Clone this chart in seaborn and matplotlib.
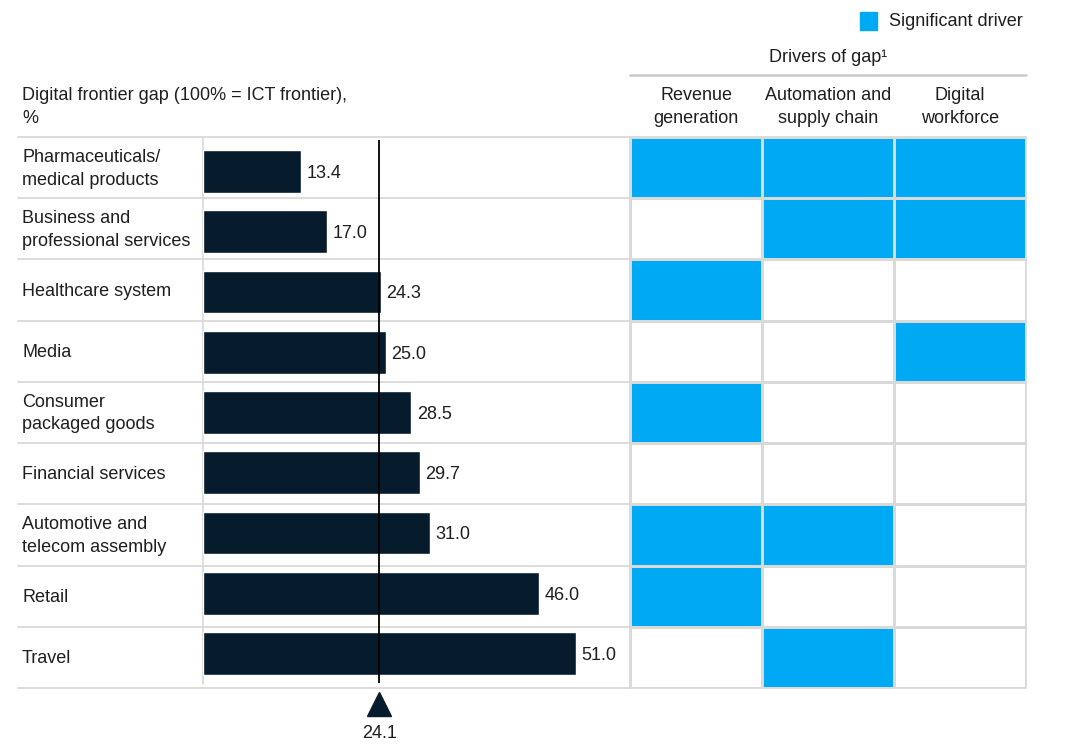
import matplotlib
matplotlib.use("Agg")
import matplotlib.pyplot as plt
import seaborn as sns
import numpy as np
import pandas as pd
from matplotlib.colors import ListedColormap
from matplotlib.lines import Line2D
from matplotlib.patches import Rectangle
from matplotlib.transforms import blended_transform_factory

categories = ["Pharmaceuticals/\nmedical products", "Business and\nprofessional services",
              "Healthcare system", "Media", "Consumer\npackaged goods", "Financial services",
              "Automotive and\ntelecom assembly", "Retail", "Travel"]
gap_values = [13.4, 17.0, 24.3, 25.0, 28.5, 29.7, 31.0, 46.0, 51.0]
reference_value = 24.1
driver_columns = ["Revenue\ngeneration", "Automation and\nsupply chain", "Digital\nworkforce"]
revenue_generation = [1, 0, 1, 0, 1, 0, 1, 1, 0]
automation_supply = [1, 1, 0, 0, 0, 0, 1, 0, 1]
digital_workforce = [1, 1, 0, 1, 0, 0, 0, 0, 0]

W, H = 1080, 749
BAR_C = "#061c2c"
BLUE = "#00a9f4"
GRID = "#d9d9d9"
TXT = "#1e1e1e"

sns.set_theme(style="white")
plt.rcParams["font.family"] = ["Liberation Sans", "DejaVu Sans"]
FS = 13
LS = 1.45

fig = plt.figure(figsize=(W / 100, H / 100), dpi=100)
fig.patch.set_facecolor("white")

def fx(x):
    return x / W

def fy(y):
    return 1 - y / H

top, bot = 137, 688
row_h = (bot - top) / len(categories)

# bar axes (bar pitch slightly tighter than the table rows, as in the original)
pitch, first_c = 60.25, 171.5
axb = fig.add_axes([fx(203), fy(bot), fx(630 - 203), (bot - top) / H])
axb.set_zorder(5)
axb.patch.set_alpha(0)
df = pd.DataFrame({"cat": categories, "val": gap_values})
sns.barplot(data=df, x="val", y="cat", orient="h", color=BAR_C, width=0.71,
            saturation=1, ax=axb, zorder=3)
axb.set_xlim(0, (630 - 203) / 7.31)
axb.set_ylim((bot - first_c) / pitch, (top - first_c) / pitch)
axb.axis("off")
for i, v in enumerate(gap_values):
    axb.text(v + 0.75, i + 0.03, f"{v:.1f}", va="center", ha="left", fontsize=FS, color=TXT)
ylo, yhi = axb.get_ylim()
axb.plot([reference_value, reference_value], [yhi + 3 / pitch, ylo - 5 / pitch], color="black",
         lw=1.3, solid_capstyle="butt", zorder=6)
tr = blended_transform_factory(axb.transData, fig.transFigure)
axb.plot([reference_value], [fy(704)], marker="^", markersize=17, color=BAR_C, transform=tr,
         clip_on=False, linestyle="none")
axb.text(reference_value, fy(733), f"{reference_value:.1f}", transform=tr, ha="center", va="center",
         fontsize=FS, color=TXT)

# heatmap axes
axh = fig.add_axes([fx(630), fy(bot), fx(1026 - 630), (bot - top) / H])
mat = pd.DataFrame({"r": revenue_generation, "a": automation_supply, "d": digital_workforce})
sns.heatmap(mat, cmap=ListedColormap(["white", BLUE]), vmin=0, vmax=1, cbar=False,
            linewidths=1.0, linecolor=GRID, ax=axh)
axh.set_xticks([])
axh.set_yticks([])
axh.set_xlabel("")
axh.set_ylabel("")

# grid lines in figure
for i in range(len(categories) + 1):
    y = top + i * row_h
    fig.add_artist(Line2D([fx(18), fx(1026)], [fy(y), fy(y)], color=GRID, lw=1.3))
fig.add_artist(Line2D([fx(203), fx(203)], [fy(top), fy(bot - 4)], color=GRID, lw=1.2))
fig.add_artist(Line2D([fx(630), fx(630)], [fy(top), fy(bot)], color=GRID, lw=1.3))
fig.add_artist(Line2D([fx(1026), fx(1026)], [fy(top), fy(bot)], color=GRID, lw=1.3))
fig.add_artist(Line2D([fx(630), fx(1026)], [fy(75), fy(75)], color="#cfcfcf", lw=2))

# category labels
for i, c in enumerate(categories):
    y = top + (i + 0.5) * row_h + 1
    fig.text(fx(22), fy(y), c, ha="left", va="center", fontsize=FS, color=TXT, linespacing=LS)

# headers
fig.text(fx(22), fy(107), "Digital frontier gap (100% = ICT frontier),\n%", ha="left", va="center",
         fontsize=FS, color=TXT, linespacing=LS)
col_w = (1026 - 630) / 3
for j, c in enumerate(driver_columns):
    fig.text(fx(630 + (j + 0.5) * col_w), fy(107), c, ha="center", va="center", fontsize=FS,
             color=TXT, linespacing=LS)
fig.text(fx(828), fy(57), "Drivers of gap¹", ha="center", va="center", fontsize=FS, color=TXT)

# legend
fig.add_artist(Rectangle((fx(860), fy(30)), fx(17), 18 / H, color=BLUE, transform=fig.transFigure))
fig.text(fx(889), fy(21), "Significant driver", ha="left", va="center", fontsize=FS, color=TXT)

fig.savefig("out.png", dpi=100, facecolor="white")
